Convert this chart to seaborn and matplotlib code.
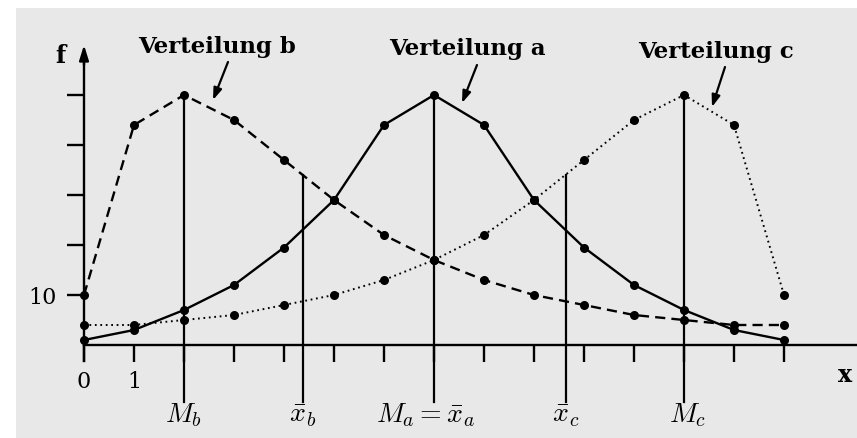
import matplotlib
matplotlib.use("Agg")
import matplotlib.pyplot as plt
import seaborn as sns
import numpy as np
from matplotlib.patches import Rectangle

# ---- data ----
x_vals = list(range(15))
dist_a = [1, 3, 7, 12, 19.5, 29, 44, 50, 44, 29, 19.5, 12, 7, 3, 1]
dist_b = [10, 44, 50, 45, 37, 29, 22, 17, 13, 10, 8, 6, 5, 4, 4]
dist_c = [4, 4, 5, 6, 8, 10, 13, 17, 22, 29, 37, 45, 50, 44, 10]
mode_b, mean_b = 2, 4.37
mode_a = 7
mean_c, mode_c = 9.63, 12
x_ticks = list(range(15))
x_tick_labels = ["0", "1"] + [""] * 13
y_ticks = [10, 20, 30, 40, 50]
y_tick_labels = ["10", "", "", "", ""]
series_titles = ["Verteilung b", "Verteilung a", "Verteilung c"]
marker_labels = [r"$M_b$", r"$\bar{x}_b$", r"$M_a=\bar{x}_a$", r"$\bar{x}_c$", r"$M_c$"]

plt.rcParams["mathtext.fontset"] = "cm"

fig = plt.figure(figsize=(8.57, 4.38), dpi=100)
fig.patch.set_facecolor("white")
fig.patches.append(Rectangle((16 / 857, 0), 1, 430 / 438, transform=fig.transFigure,
                             facecolor="#e8e8e8", edgecolor="none", zorder=-10))
ax = fig.add_axes([0, 0, 1, 1])
ax.set_facecolor("none")
ax.set_xlim(-1.68, 15.46)
ax.set_ylim(-18.6, 69)

lw = 1.7
sns.lineplot(x=x_vals, y=dist_a, ax=ax, color="black", linewidth=lw, marker="o",
             markersize=6.5, markeredgewidth=0, linestyle="-")
sns.lineplot(x=x_vals, y=dist_b, ax=ax, color="black", linewidth=lw, marker="o",
             markersize=6.5, markeredgewidth=0, linestyle=(0, (4.3, 2.6)))
sns.lineplot(x=x_vals, y=dist_c, ax=ax, color="black", linewidth=1.4, marker="o",
             markersize=6.5, markeredgewidth=0, linestyle=(0, (0.9, 1.9)))

# vertical reference lines
def val_at(series, xv):
    return float(np.interp(xv, x_vals, series))

bottom = -11.4
for xv, ser in [(mode_b, dist_b), (mean_b, dist_b), (mode_a, dist_a),
                (mean_c, dist_c), (mode_c, dist_c)]:
    ax.plot([xv, xv], [bottom, val_at(ser, xv)], color="black", lw=1.6, zorder=1)

# axes
for s in ["top", "right"]:
    ax.spines[s].set_visible(False)
ax.spines["left"].set_position(("data", 0))
ax.spines["bottom"].set_position(("data", 0))
ax.spines["left"].set_bounds(-3.2, 58)
ax.spines["bottom"].set_bounds(0, 15.46)
for s in ["left", "bottom"]:
    ax.spines[s].set_linewidth(1.7)
ax.set_xticks(x_ticks, x_tick_labels)
ax.set_yticks(y_ticks, y_tick_labels)
ax.tick_params(axis="both", direction="out", length=12, width=1.7, color="black",
               labelsize=16)
ax.tick_params(axis="x", pad=7)
ax.tick_params(axis="y", pad=8)
for lab in ax.get_xticklabels() + ax.get_yticklabels():
    lab.set_fontfamily("DejaVu Serif")
ax.set_xlabel("")
ax.set_ylabel("")

# y arrow
ax.annotate("", xy=(0, 60), xytext=(0, 56), annotation_clip=False,
            arrowprops=dict(arrowstyle="-|>,head_length=0.9,head_width=0.28",
                            color="black", lw=1.7, shrinkA=0, shrinkB=0))
ax.text(-0.48, 57.8, "f", fontsize=17, fontweight="bold", family="DejaVu Serif",
        ha="center", va="center")
ax.text(15.22, -6, "x", fontsize=17, fontweight="bold", family="DejaVu Serif",
        ha="center", va="center")

# titles with arrows
title_pos = [(2.66, 58.4), (7.66, 58.0), (12.64, 57.4)]
arrows = [((2.88, 56.6), (2.58, 49.0)), ((7.86, 56.0), (7.56, 48.4)),
          ((12.82, 55.6), (12.56, 47.6))]
for t, (tx, ty), (a0, a1) in zip(series_titles, title_pos, arrows):
    ax.text(tx, ty, t, fontsize=16.5, fontweight="bold", family="DejaVu Serif",
            ha="center", va="baseline")
    ax.annotate("", xy=a1, xytext=a0,
                arrowprops=dict(arrowstyle="-|>,head_length=0.7,head_width=0.25",
                                color="black", lw=1.6, shrinkA=0, shrinkB=0))

# bottom labels
label_x = [mode_b, mean_b, 6.84, mean_c, mode_c + 0.08]
for lx, lt in zip(label_x, marker_labels):
    ax.text(lx, -14.0, lt, fontsize=20, ha="center", va="center")

fig.savefig("out.png", dpi=100, facecolor=fig.get_facecolor())
